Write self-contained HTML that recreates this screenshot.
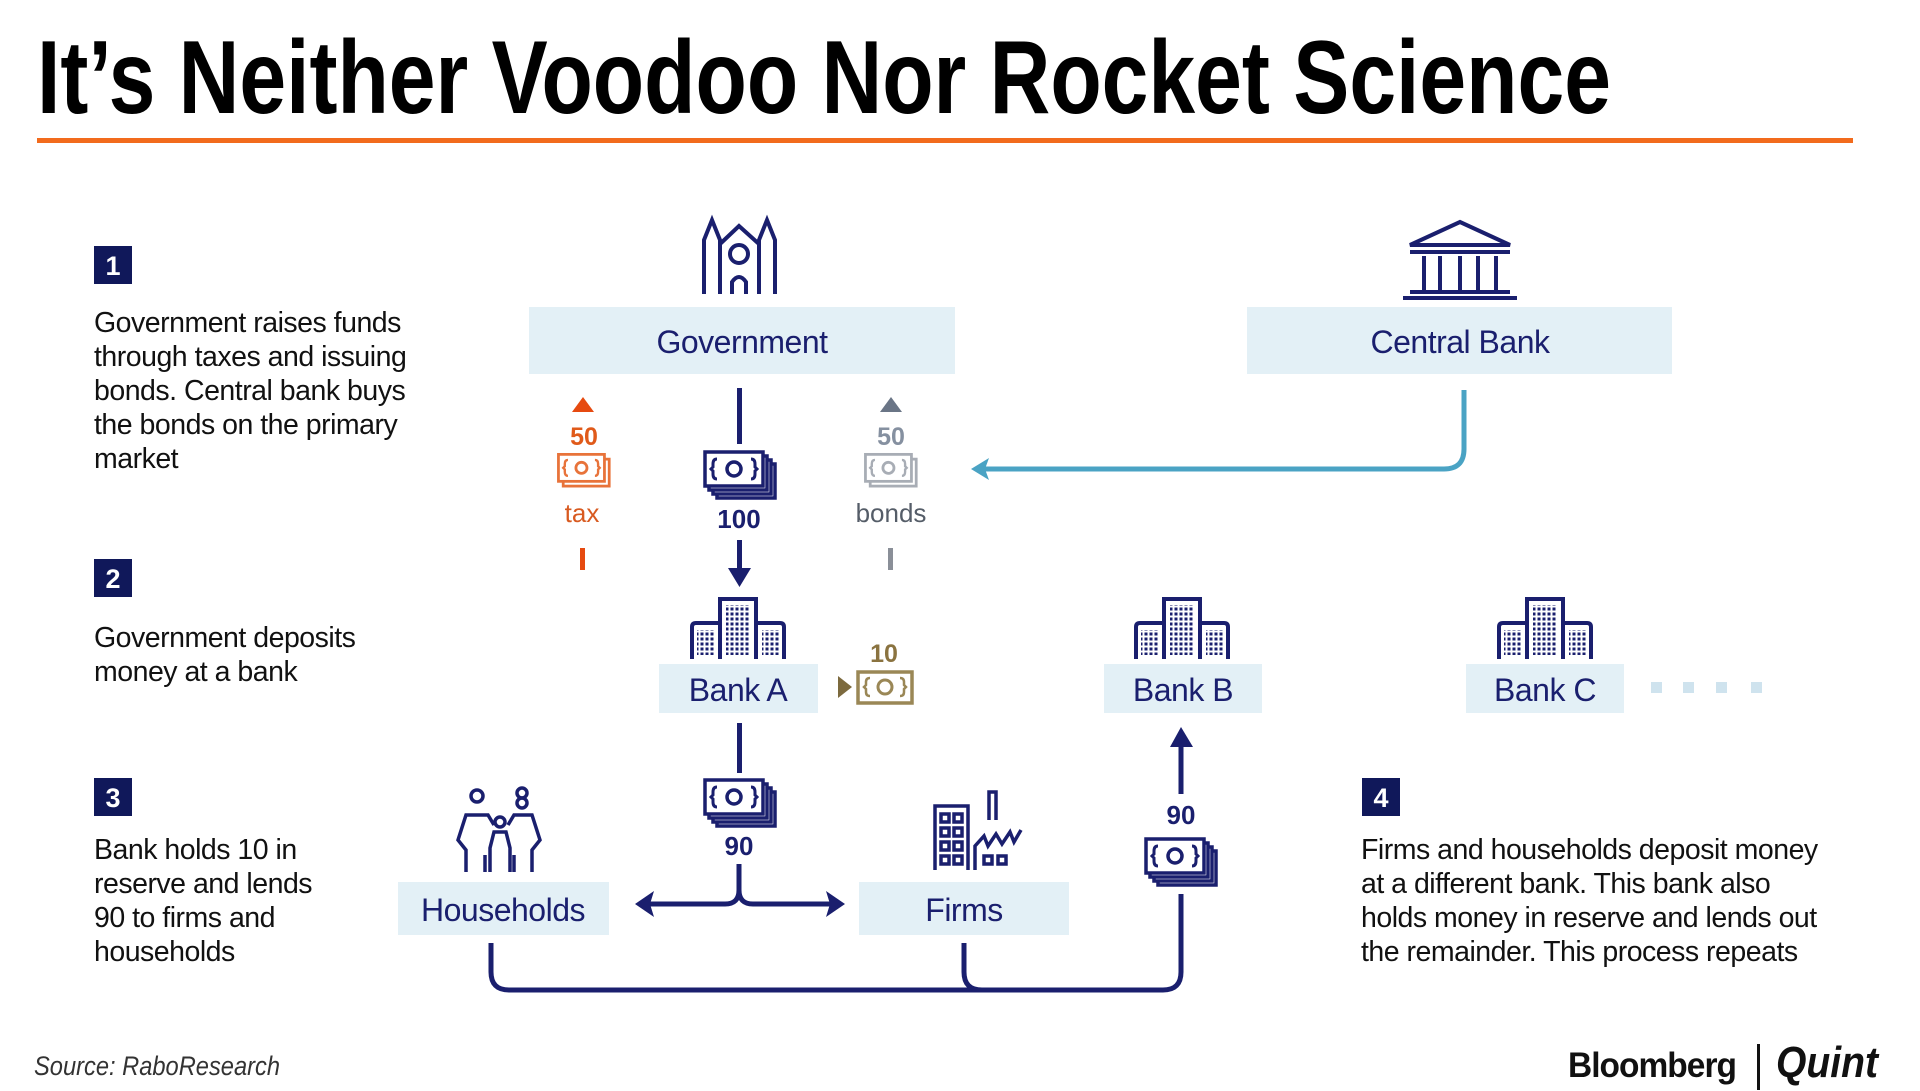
<!DOCTYPE html>
<html><head><meta charset="utf-8"><style>
html,body{margin:0;padding:0;background:#fff;}
svg{display:block;}
text{font-family:"Liberation Sans",sans-serif;}
</style></head><body>
<svg width="1920" height="1091" viewBox="0 0 1920 1091" xmlns="http://www.w3.org/2000/svg">
<defs>
<pattern id="win" width="5" height="5" patternUnits="userSpaceOnUse">
  <rect x="0.5" y="0.5" width="3" height="3" fill="#1a1f6e"/>
</pattern>
<symbol id="cash" viewBox="0 0 72 58" overflow="visible">
  <g fill="#fff" stroke="currentColor" stroke-width="3.5">
    <rect x="12" y="15" width="58" height="34"/>
    <rect x="8" y="11" width="58" height="34"/>
    <rect x="4" y="7" width="58" height="34"/>
    <rect x="0" y="3" width="58" height="34"/>
  </g>
  <circle cx="29" cy="20" r="7" fill="none" stroke="currentColor" stroke-width="3.5"/>
  <path d="M12 10 q-4 0 -4 5 v3 l-2 2 l2 2 v3 q0 5 4 5 M46 10 q4 0 4 5 v3 l2 2 l-2 2 v3 q0 5 -4 5" fill="none" stroke="currentColor" stroke-width="3"/>
</symbol>
<symbol id="cash1" viewBox="0 0 72 58" overflow="visible">
  <g fill="#fff" stroke="currentColor" stroke-width="3.5">
    <rect x="6" y="9" width="58" height="34"/>
    <rect x="0" y="3" width="58" height="34"/>
  </g>
  <circle cx="29" cy="20" r="7" fill="none" stroke="currentColor" stroke-width="3.5"/>
  <path d="M12 10 q-4 0 -4 5 v3 l-2 2 l2 2 v3 q0 5 4 5 M46 10 q4 0 4 5 v3 l2 2 l-2 2 v3 q0 5 -4 5" fill="none" stroke="currentColor" stroke-width="3"/>
</symbol>
<symbol id="bank" viewBox="0 0 96 62" overflow="visible">
  <g fill="none" stroke="#1a1f6e" stroke-width="4">
    <path d="M30 62 V2 H66 V62"/>
    <path d="M2 62 V30 Q2 26 6 26 H28"/>
    <path d="M94 62 V30 Q94 26 90 26 H68"/>
  </g>
  <g fill="url(#win)">
    <rect x="36" y="8" width="24" height="50"/>
    <rect x="7" y="33" width="17" height="25"/>
    <rect x="72" y="33" width="17" height="25"/>
  </g>
</symbol>
</defs>

<!-- Title -->
<text x="37" y="113" font-size="104" font-weight="bold" fill="#000" textLength="1574" lengthAdjust="spacingAndGlyphs">It’s Neither Voodoo Nor Rocket Science</text>
<rect x="37" y="138" width="1816" height="5" fill="#f26b1d"/>

<!-- Number boxes -->
<g font-size="27" font-weight="bold" fill="#fff" text-anchor="middle">
<rect x="94" y="246" width="38" height="38" fill="#10185a"/><text x="113" y="275">1</text>
<rect x="94" y="559" width="38" height="38" fill="#10185a"/><text x="113" y="588">2</text>
<rect x="94" y="778" width="38" height="38" fill="#10185a"/><text x="113" y="807">3</text>
<rect x="1362" y="778" width="38" height="38" fill="#10185a"/><text x="1381" y="807">4</text>
</g>

<!-- Paragraphs -->
<g font-size="28.5" fill="#111" letter-spacing="-0.5">
<text x="94" y="332">Government raises funds</text>
<text x="94" y="366">through taxes and issuing</text>
<text x="94" y="400">bonds. Central bank buys</text>
<text x="94" y="434">the bonds on the primary</text>
<text x="94" y="468">market</text>
<text x="94" y="647">Government deposits</text>
<text x="94" y="681">money at a bank</text>
<text x="94" y="859">Bank holds 10 in</text>
<text x="94" y="893">reserve and lends</text>
<text x="94" y="927">90 to firms and</text>
<text x="94" y="961">households</text>
<text x="1361" y="859">Firms and households deposit money</text>
<text x="1361" y="893">at a different bank. This bank also</text>
<text x="1361" y="927">holds money in reserve and lends out</text>
<text x="1361" y="961">the remainder. This process repeats</text>
</g>

<!-- Boxes -->
<g fill="#e3f0f6">
<rect x="529" y="307" width="426" height="67"/>
<rect x="1247" y="307" width="425" height="67"/>
<rect x="659" y="664" width="159" height="49"/>
<rect x="1104" y="664" width="158" height="49"/>
<rect x="1466" y="664" width="158" height="49"/>
<rect x="398" y="882" width="211" height="53"/>
<rect x="859" y="882" width="210" height="53"/>
</g>
<g font-size="32" fill="#1a1f6e" text-anchor="middle" letter-spacing="-0.5">
<text x="742" y="353">Government</text>
<text x="1460" y="353">Central Bank</text>
<text x="738" y="701">Bank A</text>
<text x="1183" y="701">Bank B</text>
<text x="1545" y="701">Bank C</text>
<text x="503" y="921">Households</text>
<text x="964" y="921">Firms</text>
</g>

<!-- Government icon -->
<g fill="none" stroke="#1a1f6e" stroke-width="4">
<path d="M704 294 V240 L712 220 L720 240 V294"/>
<path d="M775 294 V240 L767 220 L759 240 V294"/>
<path d="M720 244 L739 226 L759 244"/>
<circle cx="739" cy="254" r="9"/>
<path d="M732 294 V282 Q739 272 746 282 V294"/>
</g>

<!-- Central bank icon -->
<g fill="none" stroke="#1a1f6e" stroke-width="4">
<path d="M1410 245 L1460 222 L1510 245 Z"/>
<path d="M1410 252 H1510"/>
<path d="M1424 256 V290 M1440 256 V290 M1460 256 V290 M1478 256 V290 M1496 256 V290"/>
<path d="M1410 292 H1510 M1403 298 H1517"/>
</g>

<!-- Gov flow -->
<rect x="737" y="388" width="5" height="56" fill="#1a1f6e"/>
<use href="#cash" x="704" y="449" width="74" height="58" color="#1a1f6e"/>
<text x="739" y="528" font-size="26" font-weight="bold" fill="#1a1f6e" text-anchor="middle">100</text>
<rect x="737" y="540" width="5" height="30" fill="#1a1f6e"/>
<path d="M728 568 H751 L739.5 587 Z" fill="#1a1f6e"/>

<!-- tax -->
<path d="M572 412 L583 397 L594 412 Z" fill="#e64a10"/>
<text x="584" y="445" font-size="25" font-weight="bold" fill="#e05a1a" text-anchor="middle">50</text>
<use href="#cash1" x="555" y="452" width="64" height="46" color="#e8733a"/>
<text x="582" y="522" font-size="26" fill="#d85a20" text-anchor="middle">tax</text>
<rect x="580" y="548" width="5" height="22" fill="#e64a10"/>

<!-- bonds -->
<path d="M880 412 L891 397 L902 412 Z" fill="#6a7586"/>
<text x="891" y="445" font-size="25" font-weight="bold" fill="#8590a0" text-anchor="middle">50</text>
<use href="#cash1" x="862" y="452" width="64" height="46" color="#a8adb5"/>
<text x="891" y="522" font-size="26" fill="#555d68" text-anchor="middle">bonds</text>
<rect x="888" y="548" width="5" height="22" fill="#8a8f98"/>

<!-- Central bank arrow -->
<path d="M1464 390 V449 Q1464 469 1444 469 H985" fill="none" stroke="#4aa3c4" stroke-width="5"/>
<path d="M971 469 L989 458 L985 469 L989 480 Z" fill="#4aa3c4"/>

<!-- Banks -->
<use href="#bank" x="690" y="597" width="96" height="62"/>
<use href="#bank" x="1134" y="597" width="96" height="62"/>
<use href="#bank" x="1497" y="597" width="96" height="62"/>
<g fill="#cfe3ee">
<rect x="1651" y="682" width="11" height="11"/><rect x="1683" y="682" width="11" height="11"/>
<rect x="1716" y="682" width="11" height="11"/><rect x="1751" y="682" width="11" height="11"/>
</g>

<!-- 10 reserve -->
<path d="M838 676 L852 687 L838 698 Z" fill="#7c6a3e"/>
<text x="884" y="662" font-size="25" font-weight="bold" fill="#8a7340" text-anchor="middle">10</text>
<rect x="858" y="672" width="54" height="31" fill="#fff" stroke="#9a8756" stroke-width="3.5"/>
<circle cx="885" cy="687" r="7" fill="none" stroke="#9a8756" stroke-width="3"/>
<path d="M870 678 q-4 0 -4 4 v3 l-2 2 l2 2 v3 q0 4 4 4 M900 678 q4 0 4 4 v3 l2 2 l-2 2 v3 q0 4 -4 4" fill="none" stroke="#9a8756" stroke-width="2.5"/>

<!-- Bank A down -->
<rect x="737" y="723" width="5" height="50" fill="#1a1f6e"/>
<use href="#cash" x="704" y="777" width="74" height="58" color="#1a1f6e"/>
<text x="739" y="855" font-size="26" font-weight="bold" fill="#1a1f6e" text-anchor="middle">90</text>
<path d="M739 864 V890 Q739 904 725 904 H650 M739 890 Q739 904 753 904 H830" fill="none" stroke="#1a1f6e" stroke-width="5"/>
<path d="M635 904 L654 891 L650 904 L654 917 Z" fill="#1a1f6e"/>
<path d="M845 904 L826 891 L830 904 L826 917 Z" fill="#1a1f6e"/>

<!-- Households icon -->
<g fill="none" stroke="#1a1f6e" stroke-width="3.5">
<circle cx="477" cy="796" r="6"/>
<circle cx="522" cy="793" r="5"/><circle cx="522" cy="803" r="5"/>
<circle cx="500" cy="822" r="5"/>
<path d="M466 872 V850 L458 840 L466 815 H488 L494 825"/>
<path d="M485 872 V855"/>
<path d="M508 825 L514 815 H532 L540 840 L532 850 V872"/>
<path d="M514 872 V855"/>
<path d="M490 872 V848 L494 832 H506 L510 848 V872"/>
</g>

<!-- Firms icon -->
<g fill="none" stroke="#1a1f6e" stroke-width="3.5">
<path d="M935 870 V806 H968 V870"/>
<path d="M989 820 V792 H996 V820"/>
<path d="M975 870 V846 L984 836 L988 846 L996 834 L1002 844 L1010 832 L1014 842 L1021 830"/>
<rect x="941" y="814" width="8" height="8"/><rect x="954" y="814" width="8" height="8"/>
<rect x="941" y="828" width="8" height="8"/><rect x="954" y="828" width="8" height="8"/>
<rect x="941" y="842" width="8" height="8"/><rect x="954" y="842" width="8" height="8"/>
<rect x="941" y="856" width="8" height="8"/><rect x="954" y="856" width="8" height="8"/>
<rect x="984" y="856" width="8" height="8"/><rect x="998" y="856" width="8" height="8"/>
</g>

<!-- Bottom connector -->
<path d="M491 943 V972 Q491 990 509 990 H1163 Q1181 990 1181 972 V894" fill="none" stroke="#1a1f6e" stroke-width="5"/>
<path d="M964 943 V972 Q964 990 982 990" fill="none" stroke="#1a1f6e" stroke-width="5"/>
<use href="#cash" x="1145" y="836" width="74" height="58" color="#1a1f6e"/>
<text x="1181" y="824" font-size="26" font-weight="bold" fill="#1a1f6e" text-anchor="middle">90</text>
<rect x="1178.5" y="744" width="5" height="50" fill="#1a1f6e"/>
<path d="M1170 747 H1193 L1181 727 Z" fill="#1a1f6e"/>

<!-- Footer -->
<text x="34" y="1075" font-size="27" font-style="italic" fill="#333" textLength="246" lengthAdjust="spacingAndGlyphs">Source: RaboResearch</text>
<text x="1568" y="1077" font-size="35" font-weight="bold" fill="#111" letter-spacing="-1" textLength="168" lengthAdjust="spacingAndGlyphs">Bloomberg</text>
<rect x="1757" y="1044" width="3" height="46" fill="#111"/>
<text x="1776" y="1077" font-family="Liberation Serif,serif" font-size="44" font-weight="bold" font-style="italic" fill="#111" textLength="102" lengthAdjust="spacingAndGlyphs">Quint</text>
</svg>
</body></html>
